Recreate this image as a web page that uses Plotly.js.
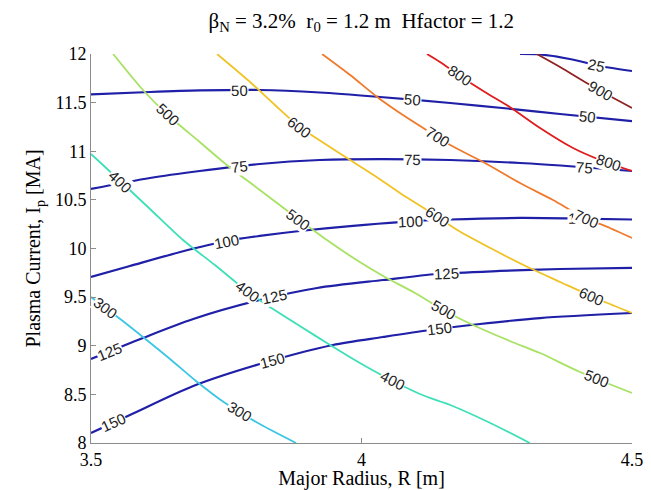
<!DOCTYPE html>
<html><head><meta charset="utf-8">
<script src="https://cdn.plot.ly/plotly-3.0.1.min.js"></script>
<style>html,body{margin:0;padding:0;background:#fff}</style>
</head><body>
<div id="chart" style="width:651px;height:490px"></div>
<script>
// ---- Blue contour lines (levels 25..150): Major radius R [m] and plasma current Ip [MA]
const c25R  = [4.293, 4.330, 4.385, 4.441, 4.5];
const c25I  = [12.0, 11.995, 11.949, 11.877, 11.825];
const c50R  = [3.5, 3.609, 3.701, 3.812, 3.923, 4.034, 4.164, 4.280, 4.367, 4.5];
const c50I  = [11.584, 11.609, 11.625, 11.630, 11.604, 11.558, 11.496, 11.434, 11.383, 11.309];
const c75R  = [3.5, 3.609, 3.701, 3.812, 3.923, 4.034, 4.164, 4.293, 4.404, 4.5];
const c75I  = [10.612, 10.725, 10.797, 10.869, 10.910, 10.920, 10.910, 10.879, 10.838, 10.797];
const c100R = [3.5, 3.572, 3.665, 3.751, 3.812, 3.886, 3.979, 4.071, 4.164, 4.293, 4.404, 4.5];
const c100I = [9.707, 9.820, 9.964, 10.077, 10.129, 10.180, 10.231, 10.272, 10.298, 10.314, 10.308, 10.298];
const c125R = [3.5, 3.596, 3.689, 3.812, 3.918, 4.040, 4.140, 4.256, 4.367, 4.5];
const c125I = [8.864, 9.080, 9.275, 9.470, 9.594, 9.676, 9.738, 9.769, 9.789, 9.800];
const c150R = [3.5, 3.572, 3.689, 3.812, 3.947, 4.040, 4.127, 4.219, 4.330, 4.5];
const c150I = [8.103, 8.288, 8.586, 8.812, 9.008, 9.090, 9.162, 9.224, 9.285, 9.337];

// ---- Coloured contour lines (levels 300..900)
const p300R = [3.5, 3.554, 3.596, 3.646, 3.694, 3.748, 3.812, 3.879];
const p300I = [9.501, 9.275, 9.090, 8.864, 8.638, 8.411, 8.195, 8.0];
const p400R = [3.5, 3.554, 3.609, 3.670, 3.729, 3.781, 3.825, 3.886, 3.942, 3.997, 4.058, 4.117, 4.164, 4.238, 4.311];
const p400I = [10.972, 10.694, 10.406, 10.087, 9.830, 9.594, 9.419, 9.203, 9.008, 8.823, 8.638, 8.483, 8.391, 8.206, 8.0];
const p500R = [3.541, 3.596, 3.642, 3.701, 3.751, 3.812, 3.883, 3.936, 3.988, 4.040, 4.099, 4.151, 4.206, 4.274, 4.330, 4.404, 4.5];
const p500I = [12.0, 11.630, 11.373, 11.095, 10.859, 10.602, 10.303, 10.087, 9.892, 9.717, 9.542, 9.368, 9.213, 9.049, 8.925, 8.730, 8.514];
const p600R = [3.733, 3.794, 3.840, 3.886, 3.933, 3.979, 4.025, 4.071, 4.127, 4.177, 4.238, 4.311, 4.367, 4.441, 4.5];
const p600I = [12.0, 11.712, 11.476, 11.249, 11.075, 10.910, 10.746, 10.571, 10.375, 10.190, 10.005, 9.799, 9.656, 9.470, 9.337];
const p700R = [3.927, 3.979, 4.029, 4.071, 4.114, 4.164, 4.225, 4.293, 4.354, 4.409, 4.459, 4.5];
const p700I = [12.0, 11.784, 11.558, 11.393, 11.239, 11.064, 10.889, 10.673, 10.498, 10.324, 10.211, 10.108];
const p800R = [4.121, 4.145, 4.182, 4.228, 4.274, 4.330, 4.391, 4.441, 4.5];
const p800I = [12.0, 11.918, 11.774, 11.609, 11.455, 11.239, 11.033, 10.910, 10.797];
const p900R = [4.324, 4.367, 4.413, 4.459, 4.5];
const p900I = [12.0, 11.866, 11.712, 11.568, 11.445];

// ---- Inline label positions (R where each level label sits)
const lab25  = [4.435];
const lab50  = [3.775, 4.095, 4.417];
const lab75  = [3.775, 4.095, 4.412];
const lab100 = [3.751, 4.090, 4.405];
const lab125 = [3.535, 3.840, 4.158];
const lab150 = [3.541, 3.835, 4.145];
const lab300 = [3.526, 3.775];
const lab400 = [3.554, 3.790, 4.058];
const lab500 = [3.642, 3.883, 4.151, 4.435];
const lab600 = [3.886, 4.140, 4.426];
const lab700 = [4.140, 4.415];
const lab800 = [4.182, 4.457];
const lab900 = [4.441];

const xTicks = [3.5, 4, 4.5];
const yTicks = [8, 8.5, 9, 9.5, 10, 10.5, 11, 11.5, 12];

const BLUE = '#1f1fa8';
const sets = [
  {lvl:'25',  R:c25R,  I:c25I,  labs:lab25,  color:BLUE, w:2.2},
  {lvl:'50',  R:c50R,  I:c50I,  labs:lab50,  color:BLUE, w:2.2},
  {lvl:'75',  R:c75R,  I:c75I,  labs:lab75,  color:BLUE, w:2.2},
  {lvl:'100', R:c100R, I:c100I, labs:lab100, color:BLUE, w:2.2},
  {lvl:'125', R:c125R, I:c125I, labs:lab125, color:BLUE, w:2.2},
  {lvl:'150', R:c150R, I:c150I, labs:lab150, color:BLUE, w:2.2},
  {lvl:'300', R:p300R, I:p300I, labs:lab300, color:'#3cc6e4', w:1.8},
  {lvl:'400', R:p400R, I:p400I, labs:lab400, color:'#3ee0b8', w:1.8},
  {lvl:'500', R:p500R, I:p500I, labs:lab500, color:'#a8e264', w:1.8},
  {lvl:'600', R:p600R, I:p600I, labs:lab600, color:'#f0c224', w:1.8},
  {lvl:'700', R:p700R, I:p700I, labs:lab700, color:'#f07a2c', w:1.8},
  {lvl:'800', R:p800R, I:p800I, labs:lab800, color:'#e01c1c', w:1.8},
  {lvl:'900', R:p900R, I:p900I, labs:lab900, color:'#8e2222', w:1.8}
];

const W = 651, H = 490;
const M = {l:91, r:19, t:54, b:47};
const xr = [3.5, 4.5], yr = [8, 12];
const kx = (W - M.l - M.r) / (xr[1] - xr[0]);
const ky = (H - M.t - M.b) / (yr[1] - yr[0]);

function interp(R, I, x) {
  if (x <= R[0]) return I[0];
  for (let i = 1; i < R.length; i++) {
    if (x <= R[i]) { const t = (x - R[i-1]) / (R[i] - R[i-1]); return I[i-1] + t * (I[i] - I[i-1]); }
  }
  return I[I.length-1];
}

const traces = [];
const annotations = [];
sets.forEach(s => {
  traces.push({x:s.R, y:s.I, type:'scatter', mode:'lines', hoverinfo:'skip',
    line:{color:s.color, width:s.w, shape:'spline', smoothing:0.8}, showlegend:false});
});
sets.forEach(s => {
  s.labs.forEach(x => {
    const y = interp(s.R, s.I, x);
    const d = 0.015;
    const xa = Math.max(s.R[0], x - d), xb = Math.min(s.R[s.R.length-1], x + d);
    const ya = interp(s.R, s.I, xa), yb = interp(s.R, s.I, xb);
    let ang = Math.atan2(-(yb - ya) * ky, (xb - xa) * kx) * 180 / Math.PI;
    annotations.push({x:x, y:y, xref:'x', yref:'y', text:s.lvl, showarrow:false,
      textangle:ang, bgcolor:'rgba(255,255,255,1)', borderpad:0,
      font:{family:'Liberation Sans, Arial, sans-serif', size:15, color:'#222'},
      xanchor:'center', yanchor:'middle'});
  });
});

const tickFont = {family:'Liberation Serif, Times New Roman, serif', size:18, color:'#000'};
const titleFont = {family:'Liberation Serif, Times New Roman, serif', size:20, color:'#000'};
const layout = {
  width:W, height:H, margin:M, paper_bgcolor:'#fff', plot_bgcolor:'#fff',
  showlegend:false, hovermode:false,
  title:{text:'β<sub>N</sub> = 3.2%  r<sub>0</sub> = 1.2 m  Hfactor = 1.2', x:0.555, xanchor:'center', y:0.958, yanchor:'middle',
    font:{family:'Liberation Serif, Times New Roman, serif', size:21, color:'#000'}},
  xaxis:{range:xr, tickvals:xTicks, ticktext:xTicks.map(String), showgrid:false, zeroline:false,
    showline:true, linecolor:'#8c8c8c', linewidth:1, ticks:'inside', ticklen:5, tickcolor:'#8c8c8c',
    mirror:false, tickfont:tickFont,
    title:{text:'Major Radius, R [m]', font:titleFont, standoff:4}},
  yaxis:{range:yr, tickvals:yTicks, ticktext:yTicks.map(String), showgrid:false, zeroline:false,
    showline:true, linecolor:'#8c8c8c', linewidth:1, ticks:'inside', ticklen:5, tickcolor:'#8c8c8c',
    mirror:false, tickfont:tickFont,
    title:{text:'Plasma Current, I<sub>p</sub> [MA]', font:titleFont, standoff:8}},
  annotations:annotations
};

Plotly.newPlot('chart', traces, layout, {staticPlot:true, displayModeBar:false});
</script>
</body></html>
